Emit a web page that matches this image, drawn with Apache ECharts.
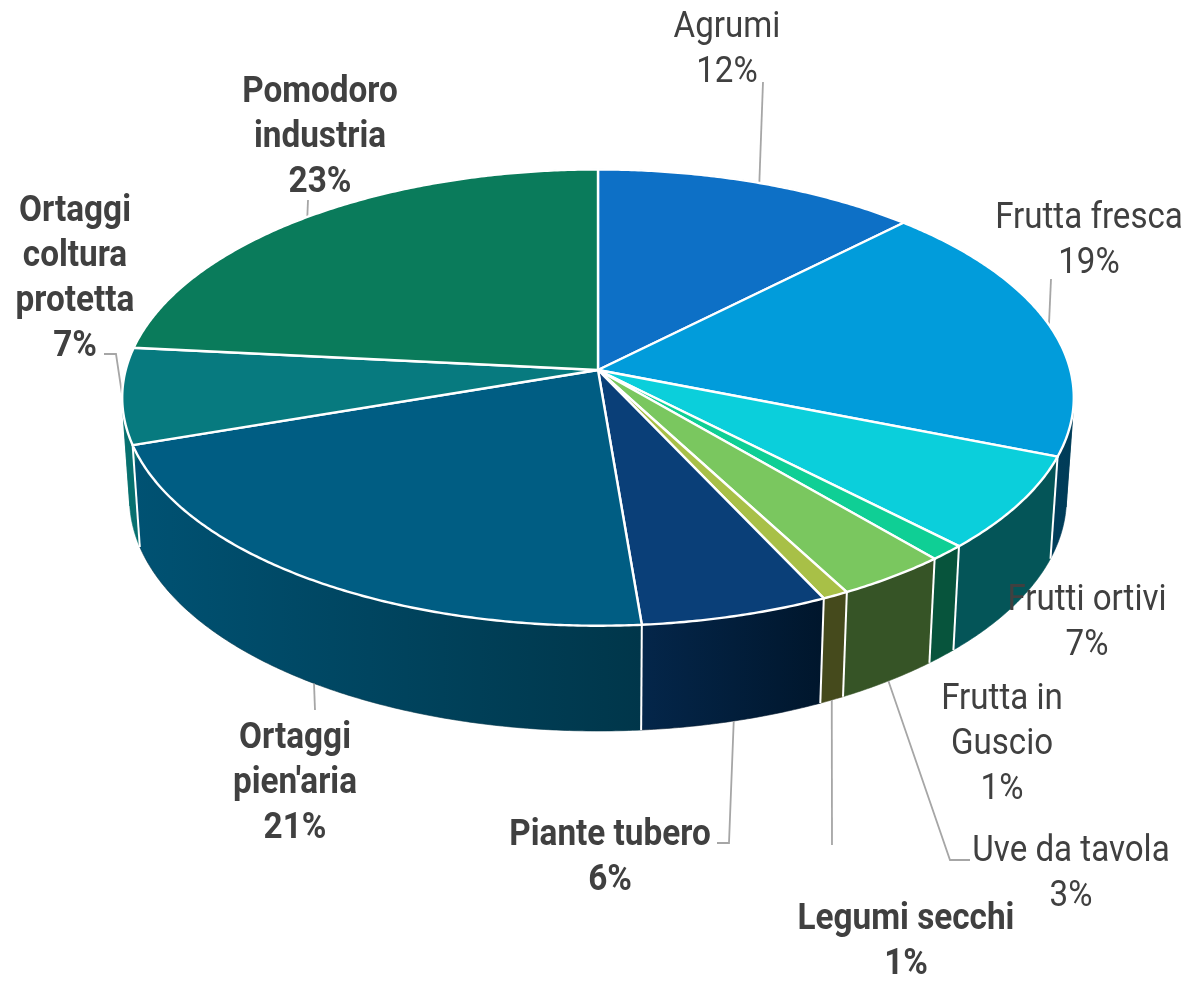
<!DOCTYPE html>
<html><head><meta charset="utf-8">
<style>html,body{margin:0;padding:0;background:#fff}#c{width:1187px;height:981px}</style>
<script src="https://cdn.jsdelivr.net/npm/echarts@6/dist/echarts.min.js"></script>
</head><body><div id="c"></div>
<script>
const categories = ['Agrumi','Frutta fresca','Frutti ortivi','Frutta in\nGuscio','Uve da tavola','Legumi secchi','Piante tubero',"Ortaggi\npien'aria",'Ortaggi\ncoltura\nprotetta','Pomodoro\nindustria'];
const values = [12.4,18.6,6.7,1.1,3.4,0.8,5.7,21.1,6.8,23.4];
const boldLabel = [0,0,0,0,0,1,1,1,1,1];
const topColors = ['#0d70c6','#019cdb','#0bcfdb','#0fcf95','#7ac75f','#a8c047','#0a3f78','#005d83','#077a7f','#0a7b5b'];
const wallFrom = ['#084a80','#004664','#045558','#07543c','#365426','#454a1c','#04264a','#005273','#07706f','#065040'];
const wallTo   = ['#084a80','#003c58','#045558','#07543c','#365426','#454a1c','#00162c','#00364a','#07706f','#065040'];
// label layout: centre x, top of first line; leader elbow points (outer end first), null = no leader
const labelPos = [[727,5],[1089,196],[1087,578],[1002,677],[1071,829],[906,897],[610,813],[295,716],[75,189],[320,70]];
const leaders = [[[763,82]],[[1051,279]],null,null,[[970,860],[950,860]],[[832,845]],[[717,843],[729,843]],[[315,710]],[[104,354],[116,354]],[[308,200]]];
const leaderRim = [0,0,0,0,1,1,1,1,0,0]; // 1 = anchored on lower rim

const P = {cx:598, cy:370, R:472.3, S:224.8, k:0.1209, cyLow:470.5, RLow:465, SLow:229};
const rimTop = t => { const w=1+P.k*Math.cos(t); return [P.cx+P.R*Math.sin(t)/w, P.cy-P.S*Math.cos(t)/w]; };
const rimLow = t => { const w=1+P.k*Math.cos(t); return [P.cx+P.RLow*Math.sin(t)/w, P.cyLow-P.SLow*Math.cos(t)/w]; };
const total = values.reduce((a,b)=>a+b,0);
let acc = 0;
const spans = values.map(v => { const s=acc; acc+=v; return [s/total*2*Math.PI, acc/total*2*Math.PI]; });
const arc = (fn,a,b) => { const n=Math.max(2,Math.ceil((b-a)/0.008)), p=[]; for(let i=0;i<=n;i++) p.push(fn(a+(b-a)*i/n)); return p; };
// orientation of the side strip at angle t; it changes sign where the wall folds at the silhouette
const fold = t => { const e=1e-3,p=rimTop(t),q=rimTop(t+e),l=rimLow(t); return Math.sign((q[0]-p[0])*(l[1]-p[1])-(q[1]-p[1])*(l[0]-p[0])); };
function wallParts(a,b){
  const parts=[]; let s=a, n=Math.ceil((b-a)/0.005), prev=fold(a);
  for(let i=1;i<=n;i++){ const t=a+(b-a)*i/n, f=fold(t); if(f!==prev){ parts.push([s,t]); s=t; prev=f; } }
  parts.push([s,b]); return parts;
}
function wallItem(params, api){
  const a=api.value(0), b=api.value(1), i=params.dataIndex;
  const all=arc(rimTop,a,b).concat(arc(rimLow,a,b));
  const xs=all.map(p=>p[0]), x0=Math.min(...xs), x1=Math.max(...xs);
  const fill=new echarts.graphic.LinearGradient(x0,0,x1,0,[{offset:0,color:wallFrom[i]},{offset:1,color:wallTo[i]}],true);
  return {type:'group',children:wallParts(a,b).map(q=>({type:'polygon',
    shape:{points:arc(rimTop,q[0],q[1]).concat(arc(rimLow,q[0],q[1]).reverse())},
    style:{fill,stroke:wallTo[i],lineWidth:0.6}}))};
}
function seamItem(params, api){
  const b=api.value(1);
  if(Math.cos(b)>=0) return null;
  return {type:'polyline',shape:{points:[rimTop(b),rimLow(b)]},style:{stroke:'#fff',lineWidth:2,fill:null}};
}
function topItem(params, api){
  const a=api.value(0), b=api.value(1), i=params.dataIndex;
  const pts=[[P.cx,P.cy]].concat(arc(rimTop,a,b));
  return {type:'polygon',shape:{points:pts},style:{fill:topColors[i],stroke:'#fff',lineWidth:2.4,lineJoin:'round'}};
}
function leaderItem(params, api){
  const a=api.value(0), b=api.value(1), i=params.dataIndex;
  if(!leaders[i]) return null;
  const m=(a+b)/2;
  const end=(leaderRim[i]?rimLow:rimTop)(m);
  return {type:'polyline',shape:{points:leaders[i].concat([end])},style:{stroke:'#a6a6a6',lineWidth:1.8,fill:null}};
}
function labelItem(params, api){
  const i=params.dataIndex;
  const pct=Math.round(api.value(2))+'%';
  return {type:'text',x:labelPos[i][0],y:labelPos[i][1],scaleX:boldLabel[i]?0.9:0.92,originX:0,originY:0,
    style:{text:categories[i]+'\n'+pct,x:0,y:0,align:'center',verticalAlign:'top',
    lineHeight:45,fontSize:boldLabel[i]?37:36,fontWeight:boldLabel[i]?'bold':'normal',fontFamily:'Roboto,sans-serif',fill:'#404040'}};
}
const data = spans.map((s,i)=>[s[0],s[1],values[i]]);
const base = {type:'custom',coordinateSystem:'none',data,silent:true,animation:false,clip:false};
const chart = echarts.init(document.getElementById('c'),null,{renderer:'canvas'});
chart.setOption({
  animation:false,backgroundColor:'#fff',
  series:[
    Object.assign({},base,{name:'walls',renderItem:wallItem,z:1}),
    Object.assign({},base,{name:'seams',renderItem:seamItem,z:2}),
    Object.assign({},base,{name:'leaders',renderItem:leaderItem,z:2}),
    Object.assign({},base,{name:'tops',renderItem:topItem,z:3}),
    Object.assign({},base,{name:'labels',renderItem:labelItem,z:4})
  ]
});
</script></body></html>
